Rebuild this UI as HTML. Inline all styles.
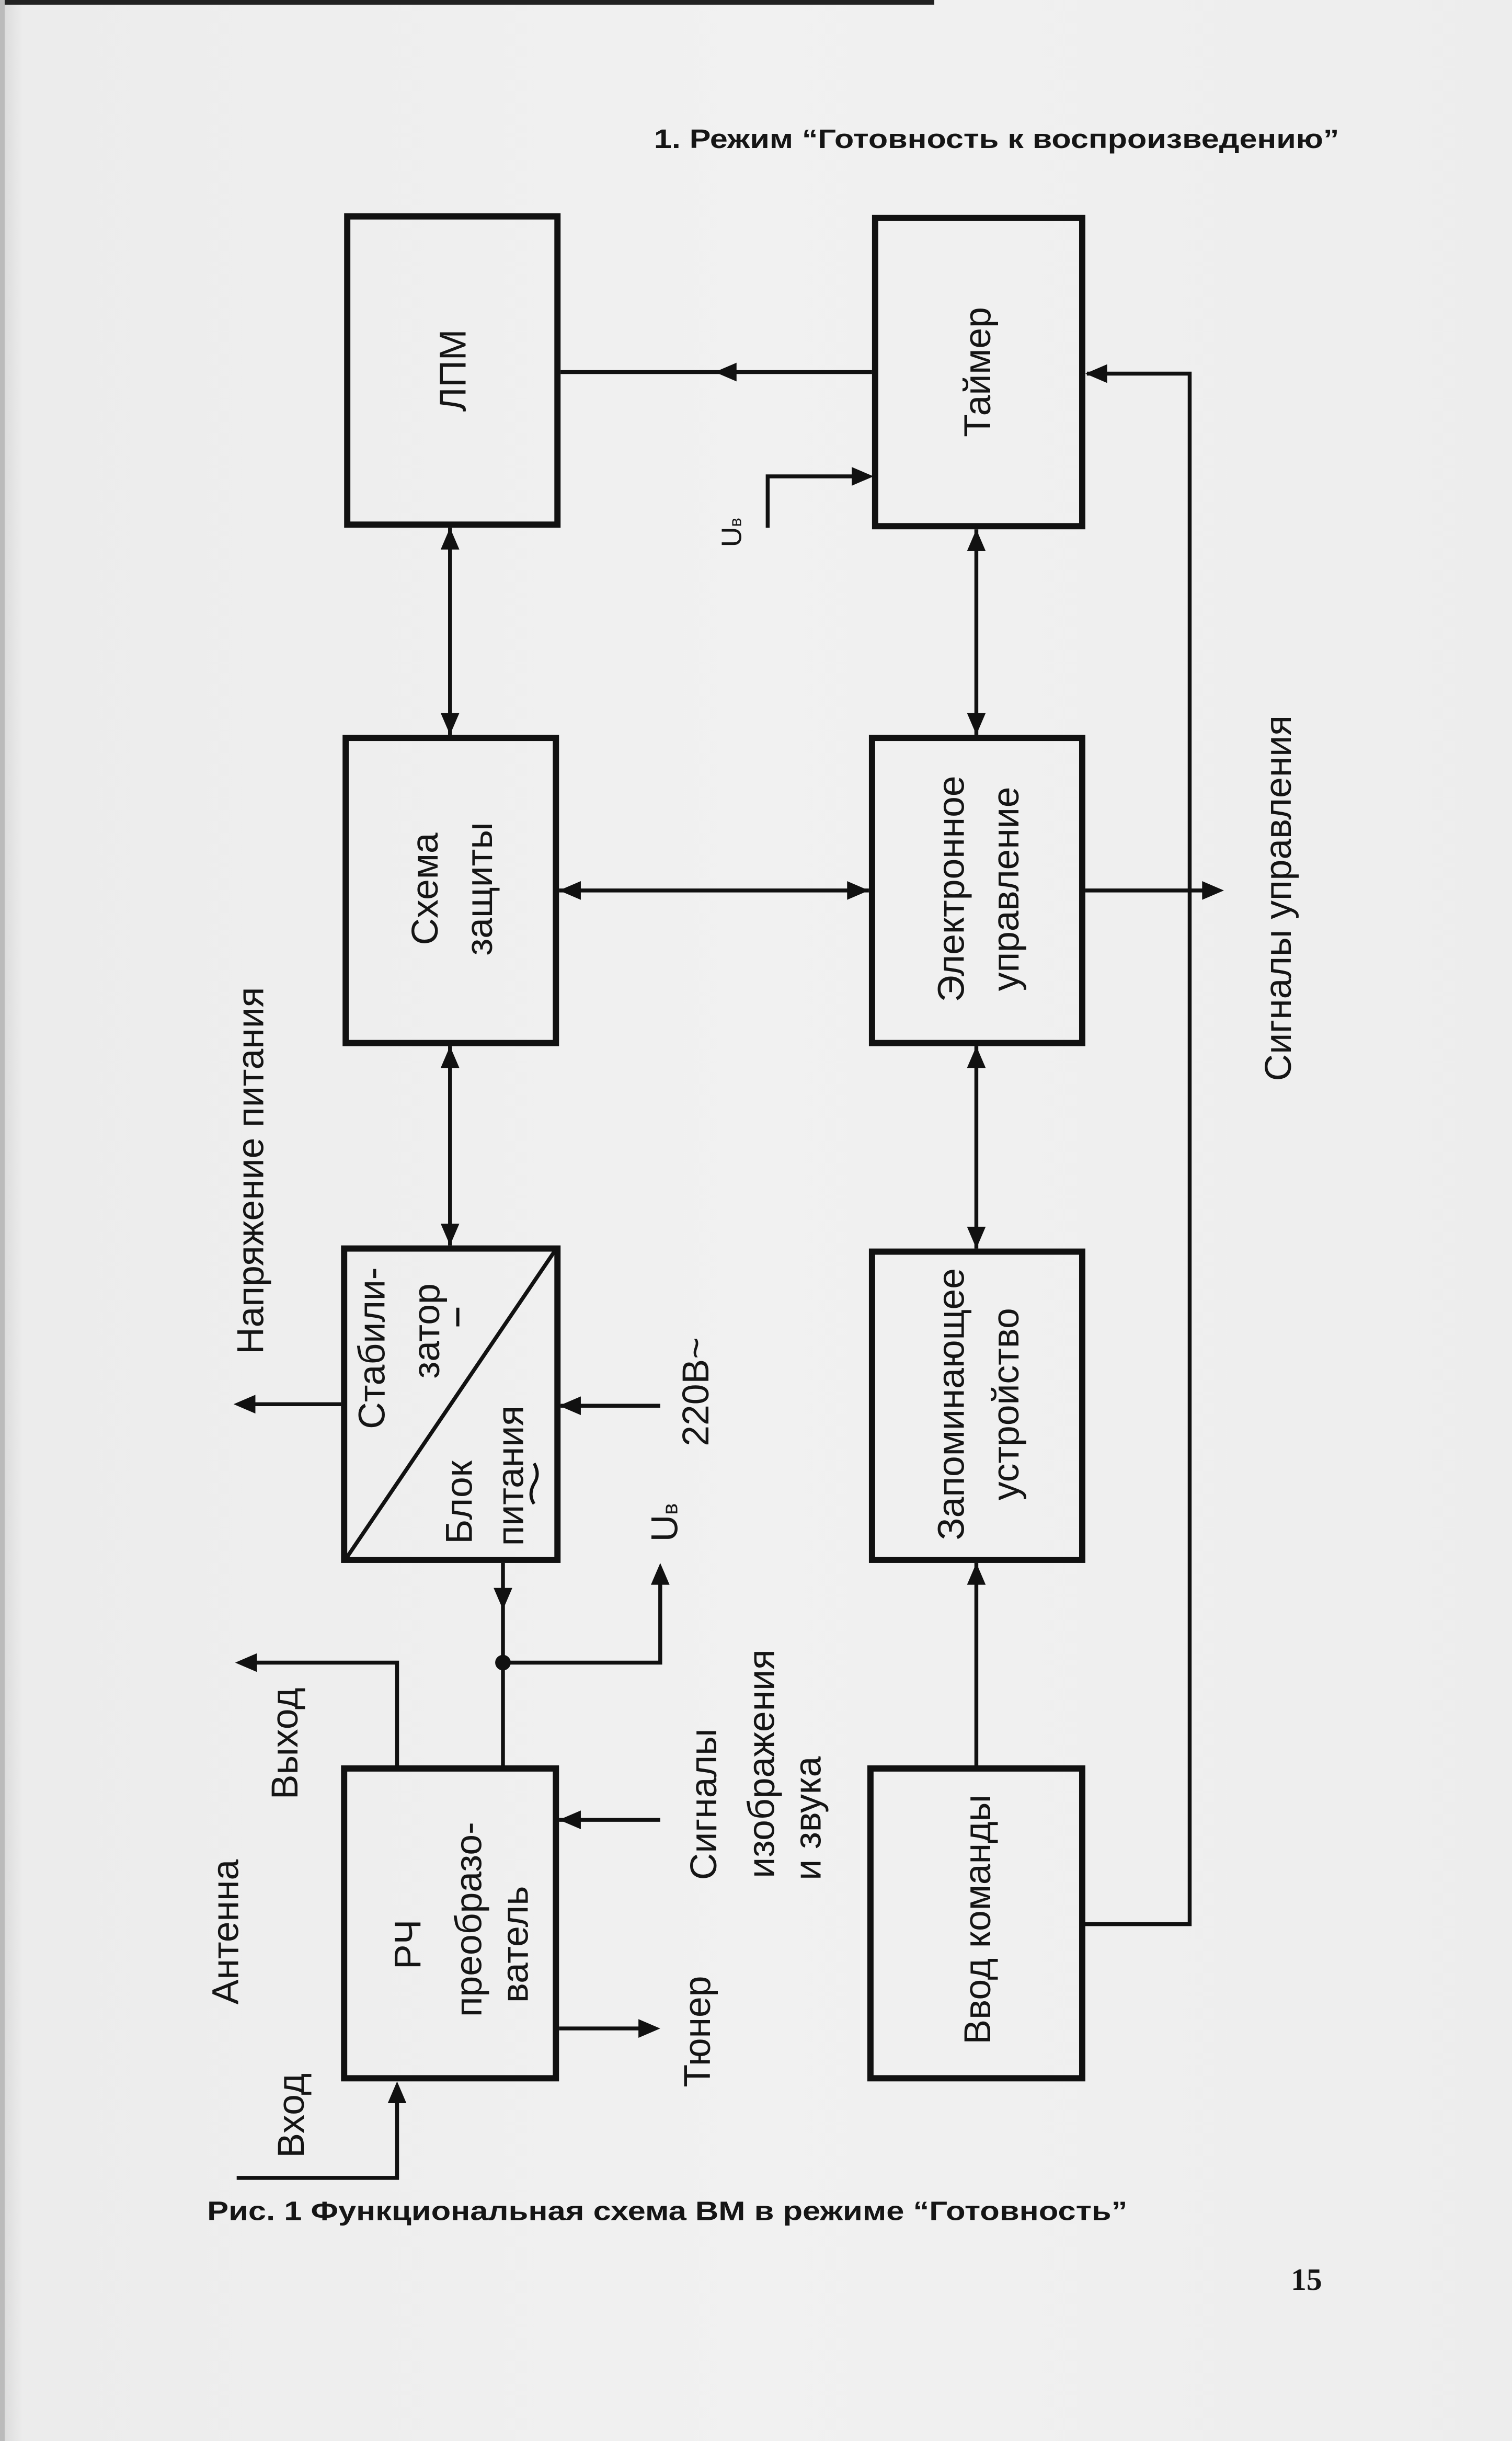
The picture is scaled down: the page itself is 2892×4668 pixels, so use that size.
<!DOCTYPE html>
<html><head><meta charset="utf-8">
<style>
html,body{margin:0;padding:0;background:#efefef;}
svg{display:block;}
text{font-family:"Liberation Sans","Noto Sans CJK SC",sans-serif;fill:#151515;}
</style></head>
<body>
<svg width="2892" height="4668" viewBox="0 0 971 1568" preserveAspectRatio="none" xmlns="http://www.w3.org/2000/svg">
<defs>
<linearGradient id="lg" x1="0" x2="1" y1="0" y2="0">
<stop offset="0" stop-color="#d8d8d8"/><stop offset="0.015" stop-color="#ececec"/><stop offset="0.5" stop-color="#f1f1f1"/><stop offset="1" stop-color="#ededed"/>
</linearGradient>
</defs>
<rect x="0" y="0" width="971" height="1568" fill="url(#lg)"/>
<rect x="0" y="0" width="600" height="3" fill="#222"/>
<rect x="0" y="0" width="3" height="1568" fill="#bbb"/>

<text x="420" y="95" font-size="17" font-weight="bold" textLength="440" lengthAdjust="spacingAndGlyphs">1. Режим “Готовность к воспроизведению”</text>

<g fill="none" stroke="#111" stroke-width="4">
<rect x="223" y="139" width="135" height="198"/>
<rect x="562" y="140" width="133" height="198"/>
<rect x="222" y="474" width="135" height="196"/>
<rect x="560" y="474" width="135" height="196"/>
<rect x="221" y="802" width="137" height="200"/>
<rect x="560" y="804" width="135" height="198"/>
<rect x="221" y="1136" width="136" height="199"/>
<rect x="559" y="1136" width="136" height="199"/>
</g>
<line x1="223" y1="1000" x2="356" y2="804" stroke="#111" stroke-width="2.5"/>

<g stroke="#111" stroke-width="2.5" fill="none">
<line x1="289" y1="339" x2="289" y2="472"/>
<line x1="289" y1="672" x2="289" y2="800"/>
<line x1="627" y1="340" x2="627" y2="472"/>
<line x1="627" y1="672" x2="627" y2="802"/>
<line x1="627" y1="1004" x2="627" y2="1134"/>
<line x1="360" y1="239" x2="560" y2="239"/>
<polyline points="493,339 493,306 558,306"/>
<polyline points="695,1236 764,1236 764,240 698,240"/>
<line x1="359" y1="572" x2="558" y2="572"/>
<line x1="697" y1="572" x2="782" y2="572"/>
<line x1="219" y1="902" x2="155" y2="902"/>
<line x1="360" y1="903" x2="424" y2="903"/>
<line x1="323" y1="1004" x2="323" y2="1134"/>
<polyline points="323,1068 424,1068 424,1008"/>
<polyline points="255,1134 255,1068 156,1068"/>
<line x1="359" y1="1169" x2="424" y2="1169"/>
<line x1="359" y1="1303" x2="420" y2="1303"/>
<polyline points="152,1399 255,1399 255,1340"/>
</g>
<circle cx="323" cy="1068" r="5" fill="#111"/>

<g fill="#111">
<polygon points="289,339 283,353 295,353"/><polygon points="289,472 283,458 295,458"/>
<polygon points="289,672 283,686 295,686"/><polygon points="289,800 283,786 295,786"/>
<polygon points="627,340 621,354 633,354"/><polygon points="627,472 621,458 633,458"/>
<polygon points="627,672 621,686 633,686"/><polygon points="627,802 621,788 633,788"/>
<polygon points="627,1004 621,1018 633,1018"/>
<polygon points="459,239 473,233 473,245"/>
<polygon points="561,306 547,300 547,312"/>
<polygon points="697,240 711,234 711,246"/>
<polygon points="359,572 373,566 373,578"/><polygon points="558,572 544,566 544,578"/>
<polygon points="786,572 772,566 772,578"/>
<polygon points="150,902 164,896 164,908"/>
<polygon points="359,903 373,897 373,909"/>
<polygon points="323,1034 317,1020 329,1020"/>
<polygon points="424,1004 418,1018 430,1018"/>
<polygon points="151,1068 165,1062 165,1074"/>
<polygon points="359,1169 373,1163 373,1175"/>
<polygon points="424,1303 410,1297 410,1309"/>
<polygon points="255,1337 249,1351 261,1351"/>
</g>

<g font-size="24" text-anchor="middle">
<text transform="translate(299,238) rotate(-90)">ЛПМ</text>
<text transform="translate(636,239) rotate(-90)">Таймер</text>
<text transform="translate(281,571) rotate(-90)">Схема</text>
<text transform="translate(316,571) rotate(-90)">защиты</text>
<text transform="translate(619,571) rotate(-90)">Электронное</text>
<text transform="translate(654,571) rotate(-90)">управление</text>
<text transform="translate(247,866) rotate(-90)">Стабили-</text>
<text transform="translate(282,855) rotate(-90)">затор</text>
<text transform="translate(303,965) rotate(-90)">Блок</text>
<text transform="translate(336,948) rotate(-90)">питания</text>
<text transform="translate(619,902) rotate(-90)">Запоминающее</text>
<text transform="translate(654,902) rotate(-90)">устройство</text>
<text transform="translate(270,1249) rotate(-90)">РЧ</text>
<text transform="translate(309,1233) rotate(-90)">преобразо-</text>
<text transform="translate(339,1249) rotate(-90)">ватель</text>
<text transform="translate(636,1233) rotate(-90)">Ввод команды</text>
<text transform="translate(455,894) rotate(-90)">220В~</text>
<text transform="translate(191,1120) rotate(-90)">Выход</text>
<text transform="translate(153,1241) rotate(-90)">Антенна</text>
<text transform="translate(195,1359) rotate(-90)">Вход</text>
<text transform="translate(460,1159) rotate(-90)">Сигналы</text>
<text transform="translate(497,1133) rotate(-90)">изображения</text>
<text transform="translate(527,1168) rotate(-90)">и звука</text>
<text transform="translate(456,1305) rotate(-90)">Тюнер</text>
<text transform="translate(169,752) rotate(-90)">Напряжение питания</text>
<text transform="translate(829,577) rotate(-90)">Сигналы управления</text>
<text transform="translate(435,978) rotate(-90)">U<tspan font-size="14">в</tspan></text>
<text transform="translate(476,342) rotate(-90)" font-size="18">U<tspan font-size="11">в</tspan></text>
</g>
<line x1="294" y1="840" x2="294" y2="852" stroke="#111" stroke-width="2"/>
<path d="M343,966 q-4,-6 0,-13 q4,-6 0,-13" stroke="#111" stroke-width="2" fill="none"/>

<text x="133" y="1426" font-size="17" font-weight="bold" textLength="591" lengthAdjust="spacingAndGlyphs">Рис. 1 Функциональная схема ВМ в режиме “Готовность”</text>
<text x="829" y="1471" font-size="20" font-weight="bold" style="font-family:'Liberation Serif',serif">15</text>
</svg>
</body></html>
